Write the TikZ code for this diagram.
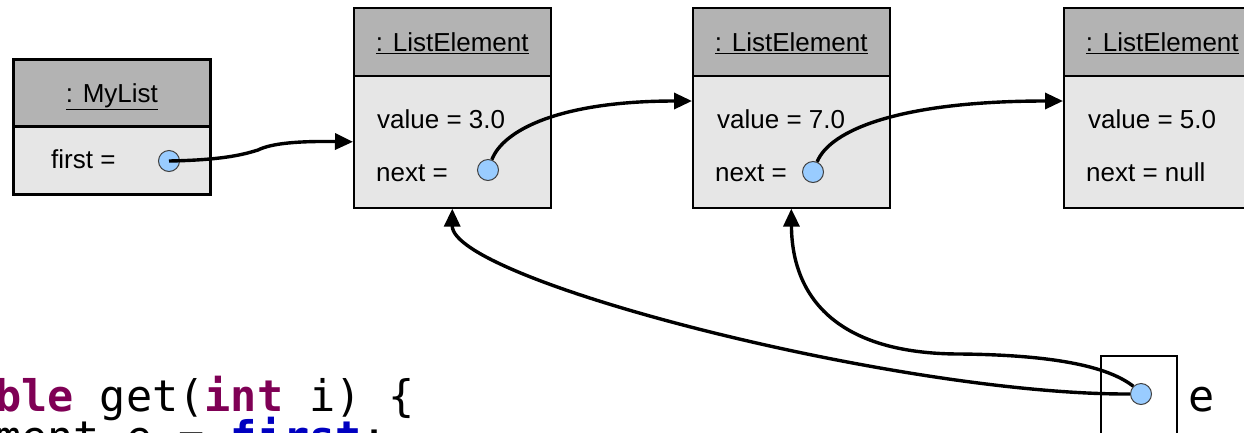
\documentclass[tikz,border=0pt]{standalone}
\usepackage{fontspec}
\setmainfont{Liberation Sans}
\newfontfamily\codefont{DejaVu Sans Mono}
\usetikzlibrary{arrows.meta}
\definecolor{hdrgray}{HTML}{B3B3B3}
\definecolor{bodygray}{HTML}{E6E6E6}
\definecolor{ptrblue}{HTML}{99CCFF}
\definecolor{kwpurple}{HTML}{7F0055}
\definecolor{fieldblue}{HTML}{0000C0}
\begin{document}
\begin{tikzpicture}[x=1pt,y=-1pt,
  objhdr/.style={draw=black, fill=hdrgray, line width=1.6pt, minimum width=197pt, minimum height=68pt,
    inner sep=0pt, anchor=north west, font=\fontsize{26}{30}\selectfont, text height=18.6pt, text depth=0pt},
  objbody/.style={draw=black, fill=bodygray, line width=1.6pt, minimum width=197pt, minimum height=132pt,
    inner sep=0pt, anchor=north west},
  attr/.style={inner sep=0pt, anchor=base west, font=\fontsize{26}{30}\selectfont},
  ptr/.style={circle, draw=black!75, line width=1pt, fill=ptrblue, minimum size=21pt, inner sep=0pt},
  conn/.style={line width=3.4pt, -{Triangle[length=18pt,width=16pt]}},
  code/.style={inner sep=0pt, anchor=base west, font=\codefont\fontsize{43.5}{52}\selectfont}
]
\useasboundingbox (0,0) rectangle (1244,432);
\clip (0,0) rectangle (1244,432);

% MyList object
\node[objhdr, line width=2.8pt, minimum height=67pt] (h0) at (12,58) {\underline{: MyList}};
\node[objbody, line width=2.8pt, minimum width=197pt, minimum height=68pt] (b0) at (12,125) {};
\node[attr] (a0) at (51,168) {first =};
\node[ptr] (c0) at (169,161) {};

% ListElement 1
\node[objhdr] (h1) at (353,7) {\underline{: ListElement}};
\node[objbody] (b1) at (353,75) {};
\node[attr] (v1) at (377,128) {value = 3.0};
\node[attr] (n1) at (376,181) {next =};
\node[ptr] (c1) at (488,170) {};

% ListElement 2
\node[objhdr] (h2) at (692,7) {\underline{: ListElement}};
\node[objbody] (b2) at (692,75) {};
\node[attr] (v2) at (717,128) {value = 7.0};
\node[attr] (n2) at (715,181) {next =};
\node[ptr] (c2) at (813,172) {};

% ListElement 3
\node[objhdr] (h3) at (1063,7) {\underline{: ListElement}};
\node[objbody] (b3) at (1063,75) {};
\node[attr] (v3) at (1088,128) {value = 5.0};
\node[attr] (n3) at (1086,181) {next = null};

% variable e
\node[draw=black, fill=white, line width=1.8pt, minimum width=76pt, minimum height=110pt, inner sep=0pt, anchor=north west] (ebox) at (1100,355) {};
\node[ptr] (ce) at (1141,394) {};
\node[code] (elabel) at (1188,411) {e};

% code fragment
\node[code] (l1) at (-5,411) {\textcolor{kwpurple}{\bfseries ble} get(\textcolor{kwpurple}{\bfseries int} i) \{};
\node[code] (l2) at (-5,452) {ment e = \textcolor{fieldblue}{\bfseries first};};

% entry points
\coordinate (b2in) at (692,101);
\coordinate (b3in) at (1063,101);

% connectors
\draw[conn] (c0.center) .. controls (225,160) and (245,154) .. (258,150)
  .. controls (272,143) and (300,141) .. (b1.west);
\draw[conn] (c1) .. controls (503,130) and (560,101) .. (b2in);
\draw[conn] (c2) .. controls (830,130) and (900,101) .. (b3in);
\draw[conn] (ce.west) .. controls (900,395) and (452,280) .. (b1.south);
\draw[conn] (ce.north west) .. controls (1110,368) and (1060,355) .. (960,354)
  .. controls (840,354) and (792,300) .. (b2.south);
\end{tikzpicture}
\end{document}
